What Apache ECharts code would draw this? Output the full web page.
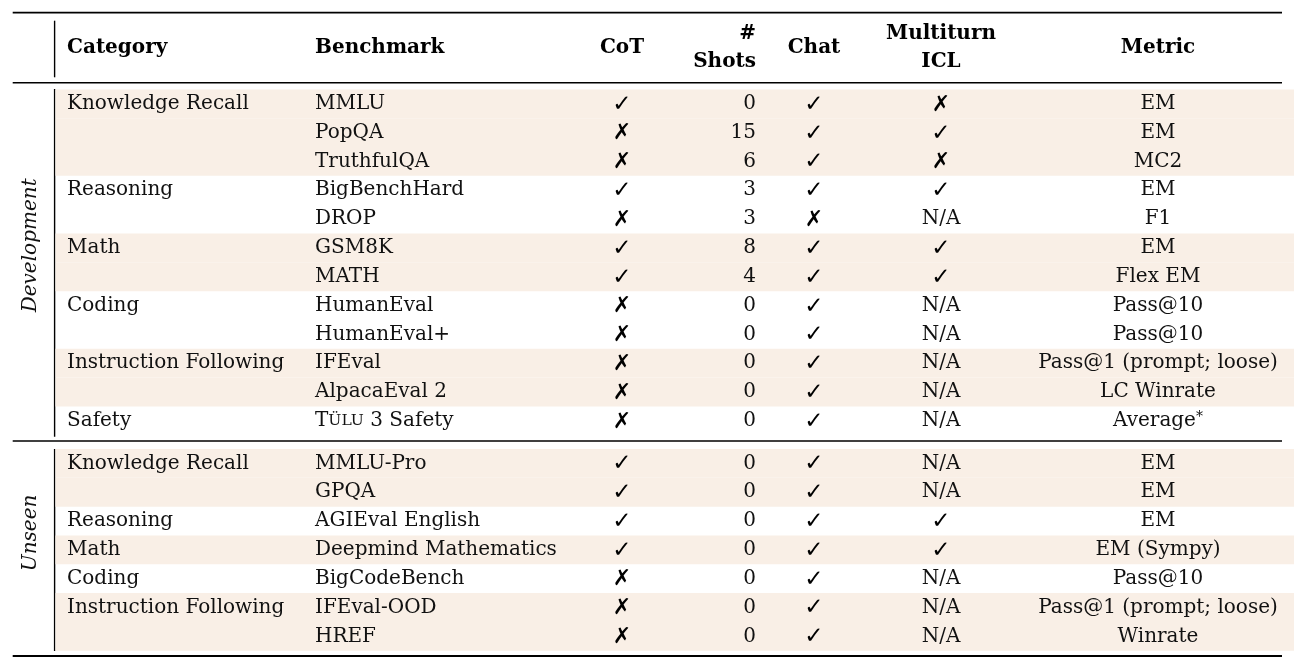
<!DOCTYPE html>
<html><head><meta charset="utf-8">
<script src="https://cdn.jsdelivr.net/npm/echarts@6.0.0/dist/echarts.min.js"></script>
<style>html,body{margin:0;padding:0;background:#fff}#c{width:1306px;height:669px}</style>
</head><body><div id="c"></div><script>
// ---------- DATA ----------
const headerLabels = ['Category', 'Benchmark', 'CoT', '#\nShots', 'Chat', 'Multiturn\nICL', 'Metric'];
const sections = ['Development', 'Unseen'];

const devGroups = ['Knowledge Recall', 'Reasoning', 'Math', 'Coding', 'Instruction Following', 'Safety'];
const devGroupSizes = [3, 2, 2, 2, 2, 1];
const devBenchmarks = ['MMLU', 'PopQA', 'TruthfulQA', 'BigBenchHard', 'DROP', 'GSM8K', 'MATH', 'HumanEval', 'HumanEval+', 'IFEval', 'AlpacaEval 2', 'Tülu 3 Safety'];
const devCoT = [1, 0, 0, 1, 0, 1, 1, 0, 0, 0, 0, 0];
const devShots = [0, 15, 6, 3, 3, 8, 4, 0, 0, 0, 0, 0];
const devChat = [1, 1, 1, 1, 0, 1, 1, 1, 1, 1, 1, 1];
const devMultiturn = [0, 1, 0, 1, null, 1, 1, null, null, null, null, null]; // null = N/A
const devMetric = ['EM', 'EM', 'MC2', 'EM', 'F1', 'EM', 'Flex EM', 'Pass@10', 'Pass@10', 'Pass@1 (prompt; loose)', 'LC Winrate', 'Average*'];

const unseenGroups = ['Knowledge Recall', 'Reasoning', 'Math', 'Coding', 'Instruction Following'];
const unseenGroupSizes = [2, 1, 1, 1, 2];
const unseenBenchmarks = ['MMLU-Pro', 'GPQA', 'AGIEval English', 'Deepmind Mathematics', 'BigCodeBench', 'IFEval-OOD', 'HREF'];
const unseenCoT = [1, 1, 1, 1, 0, 0, 0];
const unseenShots = [0, 0, 0, 0, 0, 0, 0];
const unseenChat = [1, 1, 1, 1, 1, 1, 1];
const unseenMultiturn = [null, null, 1, 1, null, null, null];
const unseenMetric = ['EM', 'EM', 'EM', 'EM (Sympy)', 'Pass@10', 'Pass@1 (prompt; loose)', 'Winrate'];

// ---------- LAYOUT / STYLE ----------
const W = 1306;
const COLX = [67, 315, 622, 756, 814, 941, 1158];      // anchor x of each column
const COLALIGN = ['left', 'left', 'center', 'right', 'center', 'center', 'center'];
const SHADE_L = 55.5, SHADE_R = 1294;
const RULE_L = 12.7, RULE_R = 1282;
const VLINE_X = 54.6;
const SHADE = '#f9efe6';
const SERIF = '"DejaVu Serif", serif';
const SYM = '"DejaVu Sans", sans-serif';
const FS = 20;
const INK = '#111';
const CHECK = '\u2713', CROSS = '\u2717';

function makeBlock(groups, sizes, bench, cot, shots, chat, multi, metric) {
  const groupOfRow = [], firstOfGroup = [];
  groups.forEach((g, gi) => {
    for (let k = 0; k < sizes[gi]; k++) { groupOfRow.push(gi); firstOfGroup.push(k === 0 ? g : ''); }
  });
  return { groups, groupOfRow, firstOfGroup, bench, cot, shots, chat, multi, metric };
}
const blocks = [
  makeBlock(devGroups, devGroupSizes, devBenchmarks, devCoT, devShots, devChat, devMultiturn, devMetric),
  makeBlock(unseenGroups, unseenGroupSizes, unseenBenchmarks, unseenCoT, unseenShots, unseenChat, unseenMultiturn, unseenMetric)
];

function txt(x, y, text, align, extra) {
  return {
    type: 'text', x: x, y: y, z2: 10,
    style: Object.assign({
      text: text, fill: INK, fontFamily: SERIF, fontSize: FS,
      align: align, verticalAlign: 'middle', textAlign: align, textVerticalAlign: 'middle'
    }, extra || {})
  };
}
function symText(x, y, flag) {
  const isCheck = flag === 1;
  return txt(x, y + 1, isCheck ? CHECK : CROSS, 'center', {
    fontFamily: SYM, fontSize: isCheck ? 23 : 22, fontWeight: 'bold', fill: '#000'
  });
}
function benchText(x, y, name) {
  if (name.indexOf('Tülu') === 0) {
    return txt(x, y, '{a|T}{s|ÜLU}{a| 3 Safety}', 'left', {
      rich: { a: { fontFamily: SERIF, fontSize: FS, fill: INK }, s: { fontFamily: SERIF, fontSize: 15.5, fill: INK } }
    });
  }
  return txt(x, y, name, 'left');
}
function metricText(x, y, m) {
  if (m.slice(-1) === '*') {
    return txt(x, y, '{a|' + m.slice(0, -1) + '}{s|*}', 'center', {
      rich: { a: { fontFamily: SERIF, fontSize: FS, fill: INK, lineHeight: 20 },
              s: { fontFamily: SERIF, fontSize: 14, fill: INK, lineHeight: 20, verticalAlign: 'top' } }
    });
  }
  return txt(x, y, m, 'center');
}

function makeRender(bi) {
  const b = blocks[bi];
  return function (params, api) {
    const i = params.dataIndex;
    const y = api.coord([0, i])[1];
    const h = api.size([0, 1])[1];
    const X = v => api.coord([v, i])[0];
    const ch = [];
    if (b.groupOfRow[i] % 2 === 0) {
      ch.push({ type: 'rect', z2: 0, shape: { x: X(SHADE_L), y: y - h / 2, width: X(SHADE_R) - X(SHADE_L), height: h }, style: { fill: SHADE } });
    }
    if (b.firstOfGroup[i]) ch.push(txt(X(COLX[0]), y, b.firstOfGroup[i], 'left'));
    ch.push(benchText(X(COLX[1]), y, b.bench[i]));
    ch.push(symText(X(COLX[2]), y, b.cot[i]));
    ch.push(txt(X(COLX[3]), y, String(b.shots[i]), 'right'));
    ch.push(symText(X(COLX[4]), y, b.chat[i]));
    if (b.multi[i] === null) ch.push(txt(X(COLX[5]), y, 'N/A', 'center'));
    else ch.push(symText(X(COLX[5]), y, b.multi[i]));
    ch.push(metricText(X(COLX[6]), y, b.metric[i]));
    if (i === 0) {
      const n = b.bench.length;
      const yc = (api.coord([0, 0])[1] + api.coord([0, n - 1])[1]) / 2 - 17;
      ch.push({ type: 'text', x: 31, y: yc, rotation: Math.PI / 2, z2: 10,
        style: { text: sections[bi], fill: INK, fontFamily: SERIF, fontSize: FS, fontStyle: 'italic',
                 align: 'center', verticalAlign: 'middle', textAlign: 'center', textVerticalAlign: 'middle' } });
    }
    return { type: 'group', children: ch };
  };
}

function renderHeader(params, api) {
  const i = params.dataIndex;
  const y = api.coord([0, 0])[1];
  const x = api.coord([COLX[i], 0])[0];
  return txt(x, y, headerLabels[i], COLALIGN[i], { fontWeight: 'bold', lineHeight: 28, fill: '#000' });
}

const ROWH = 28.82;
const DEV_TOP = 89.4, UNS_TOP = 449;

const chart = echarts.init(document.getElementById('c'), null, { renderer: 'canvas' });
const xAx = gi => ({ type: 'value', gridIndex: gi, min: 0, max: W, show: false });
chart.setOption({
  animation: false,
  backgroundColor: '#fff',
  grid: [
    { left: 0, right: 0, top: 13, height: 70 },
    { left: 0, right: 0, top: DEV_TOP, height: ROWH * devBenchmarks.length },
    { left: 0, right: 0, top: UNS_TOP, height: ROWH * unseenBenchmarks.length }
  ],
  xAxis: [xAx(0), xAx(1), xAx(2)],
  yAxis: [
    { type: 'category', gridIndex: 0, data: ['header'], show: false },
    { type: 'category', gridIndex: 1, data: devBenchmarks, inverse: true, show: false },
    { type: 'category', gridIndex: 2, data: unseenBenchmarks, inverse: true, show: false }
  ],
  series: [
    { type: 'custom', xAxisIndex: 0, yAxisIndex: 0, clip: false, renderItem: renderHeader,
      data: headerLabels.map((h, i) => [COLX[i], 0]) },
    { type: 'custom', xAxisIndex: 1, yAxisIndex: 1, clip: false, renderItem: makeRender(0),
      data: devBenchmarks.map((b, i) => [0, i]) },
    { type: 'custom', xAxisIndex: 2, yAxisIndex: 2, clip: false, renderItem: makeRender(1),
      data: unseenBenchmarks.map((b, i) => [0, i]) }
  ],
  graphic: [
    { type: 'line', shape: { x1: RULE_L, y1: 12.7, x2: RULE_R, y2: 12.7 }, style: { stroke: '#000', lineWidth: 1.8 } },
    { type: 'line', shape: { x1: RULE_L, y1: 82.7, x2: RULE_R, y2: 82.7 }, style: { stroke: '#000', lineWidth: 1.6 } },
    { type: 'line', shape: { x1: RULE_L, y1: 441, x2: RULE_R, y2: 441 }, style: { stroke: '#000', lineWidth: 1.4 } },
    { type: 'line', shape: { x1: RULE_L, y1: 656, x2: RULE_R, y2: 656 }, style: { stroke: '#000', lineWidth: 1.8 } },
    { type: 'line', shape: { x1: VLINE_X, y1: 20.7, x2: VLINE_X, y2: 77.3 }, style: { stroke: '#000', lineWidth: 1.4 } },
    { type: 'line', shape: { x1: VLINE_X, y1: 89, x2: VLINE_X, y2: 436.7 }, style: { stroke: '#000', lineWidth: 1.4 } },
    { type: 'line', shape: { x1: VLINE_X, y1: 449, x2: VLINE_X, y2: 651 }, style: { stroke: '#000', lineWidth: 1.4 } }
  ]
});
</script></body></html>
